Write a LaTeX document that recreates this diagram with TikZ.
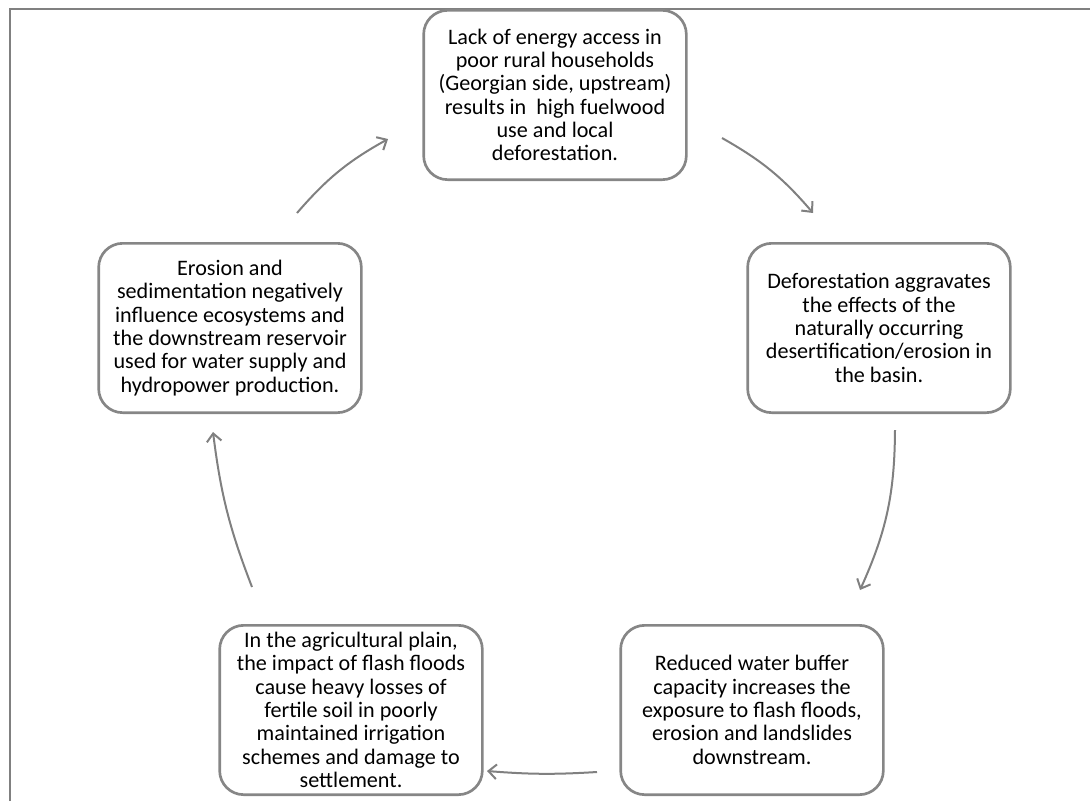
\documentclass[tikz,border=0pt]{standalone}
\usepackage{fontspec}
\setmainfont{Carlito}
\usetikzlibrary{arrows.meta}

\tikzset{
  cyclebox/.style={draw=gray!95, line width=2pt, rounded corners=18pt,
    align=center, minimum width=197pt, minimum height=127pt, inner sep=0pt,
    font=\fontsize{16.6}{17.5}\selectfont},
  cyclearrow/.style={draw=gray, line width=1.5pt,
    -{Straight Barb[length=6pt,width=11pt]}}
}

\begin{document}
\begin{tikzpicture}[x=0.75pt,y=-0.75pt]
\useasboundingbox (0,0) rectangle (1090,801);
% frame
\draw[gray, line width=1.5pt] (10,801) -- (10,9) -- (1090,9);

\node[cyclebox] (lack) at (555,95) {Lack of energy access in\\poor rural households\\(Georgian side, upstream)\\results in\ \ high fuelwood\\use and local\\deforestation.};
\node[cyclebox] (defor) at (879,328) {Deforestation aggravates\\the effects of the\\naturally occurring\\desertification/erosion in\\the basin.};
\node[cyclebox] (reduced) at (752,710) {Reduced water buffer\\capacity increases the\\exposure to flash floods,\\erosion and landslides\\downstream.};
\node[cyclebox] (agri) at (351,710) {In the agricultural plain,\\the impact of flash floods\\cause heavy losses of\\fertile soil in poorly\\maintained irrigation\\schemes and damage to\\settlement.};
\node[cyclebox] (erosion) at (230,328) {Erosion and\\sedimentation negatively\\influence ecosystems and\\the downstream reservoir\\used for water supply and\\hydropower production.};

\coordinate (a1) at (297,213);
\coordinate (b1) at (388,139);
\coordinate (a2) at (722,138);
\coordinate (b2) at (813,213);
\coordinate (a3) at (895,430);
\coordinate (b3) at (860,590);
\coordinate (a4) at (597,772);
\coordinate (b4) at (487,771);
\coordinate (a5) at (252,587);
\coordinate (b5) at (213,432);

\draw[cyclearrow] (a1) to[bend left=10] (b1);
\draw[cyclearrow] (a2) to[bend left=10] (b2);
\draw[cyclearrow] (a3) to[bend left=12] (b3);
\draw[cyclearrow] (a4) to[bend left=4] (b4);
\draw[cyclearrow] (a5) to[bend left=7] (b5);
\end{tikzpicture}
\end{document}
